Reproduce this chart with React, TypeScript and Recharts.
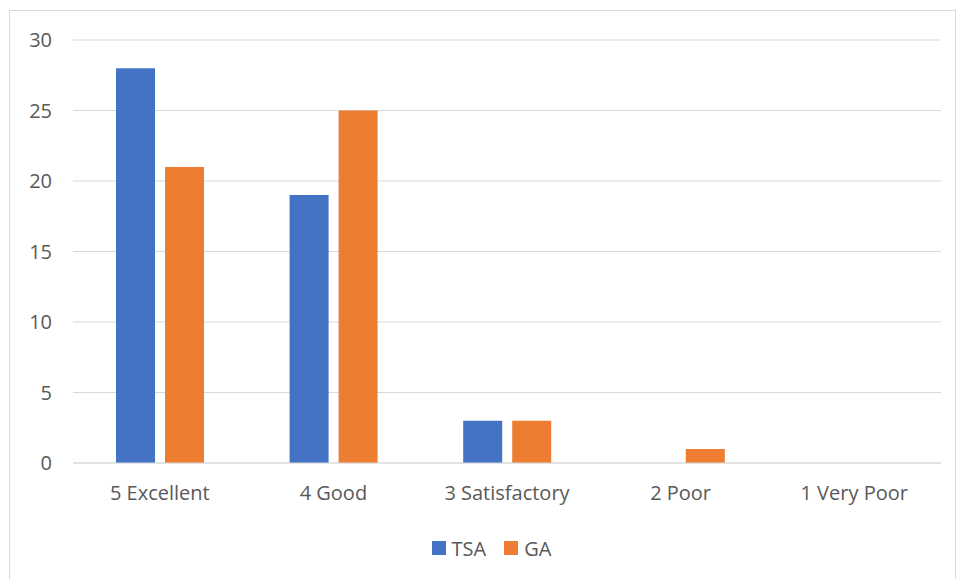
import React from "react";
import { BarChart, Bar, XAxis, YAxis, CartesianGrid, Legend } from "recharts";

const categories = ["5 Excellent", "4 Good", "3 Satisfactory", "2 Poor", "1 Very Poor"];
const tsaValues = [28, 19, 3, 0, 0];
const gaValues = [21, 25, 3, 1, 0];
const yTicks = [0, 5, 10, 15, 20, 25, 30];
const seriesNames = ["TSA", "GA"];
const seriesColors = ["#4472C4", "#ED7D31"];

const data = categories.map((c, i) => ({ name: c, TSA: tsaValues[i], GA: gaValues[i] }));

const FONT = "'Segoe UI', 'Open Sans', 'Noto Sans', sans-serif";

const LegendContent = () => (
  <div
    style={{
      display: "flex",
      justifyContent: "center",
      alignItems: "center",
      paddingLeft: 32,
      fontFamily: FONT,
      fontSize: 20,
      color: "#595959",
      height: 24,
    }}
  >
    {seriesNames.map((n, i) => (
      <div key={n} style={{ display: "flex", alignItems: "center", marginRight: i === 0 ? 18 : 0 }}>
        <div style={{ width: 14, height: 14, background: seriesColors[i], marginRight: 6 }} />
        <span>{n}</span>
      </div>
    ))}
  </div>
);

export default function App() {
  return (
    <div
      style={{
        position: "absolute",
        left: 9,
        top: 10,
        width: 947,
        height: 580,
        border: "1px solid #d9d9d9",
        boxSizing: "border-box",
        background: "#fff",
        fontFamily: FONT,
      }}
    >
      <BarChart
        width={945}
        height={570}
        data={data}
        margin={{ top: 29, right: 14, left: 0, bottom: 21 }}
        barGap={10}
        barSize={39}
      >
        <CartesianGrid vertical={false} stroke="#d9d9d9" strokeWidth={1} />
        <XAxis
          dataKey="name"
          height={73}
          tickLine={false}
          tickSize={0}
          tickMargin={23}
          axisLine={{ stroke: "#d9d9d9", strokeWidth: 1 }}
          tick={{ fill: "#595959", fontSize: 20, fontFamily: FONT }}
          interval={0}
        />
        <YAxis
          width={63}
          domain={[0, 30]}
          ticks={yTicks}
          tickLine={false}
          tickSize={0}
          tickMargin={21}
          axisLine={false}
          tick={{ fill: "#595959", fontSize: 20, fontFamily: FONT }}
        />
        <Legend verticalAlign="bottom" height={24} content={<LegendContent />} />
        <Bar dataKey="TSA" name="TSA" fill={seriesColors[0]} isAnimationActive={false} />
        <Bar dataKey="GA" name="GA" fill={seriesColors[1]} isAnimationActive={false} />
      </BarChart>
    </div>
  );
}
